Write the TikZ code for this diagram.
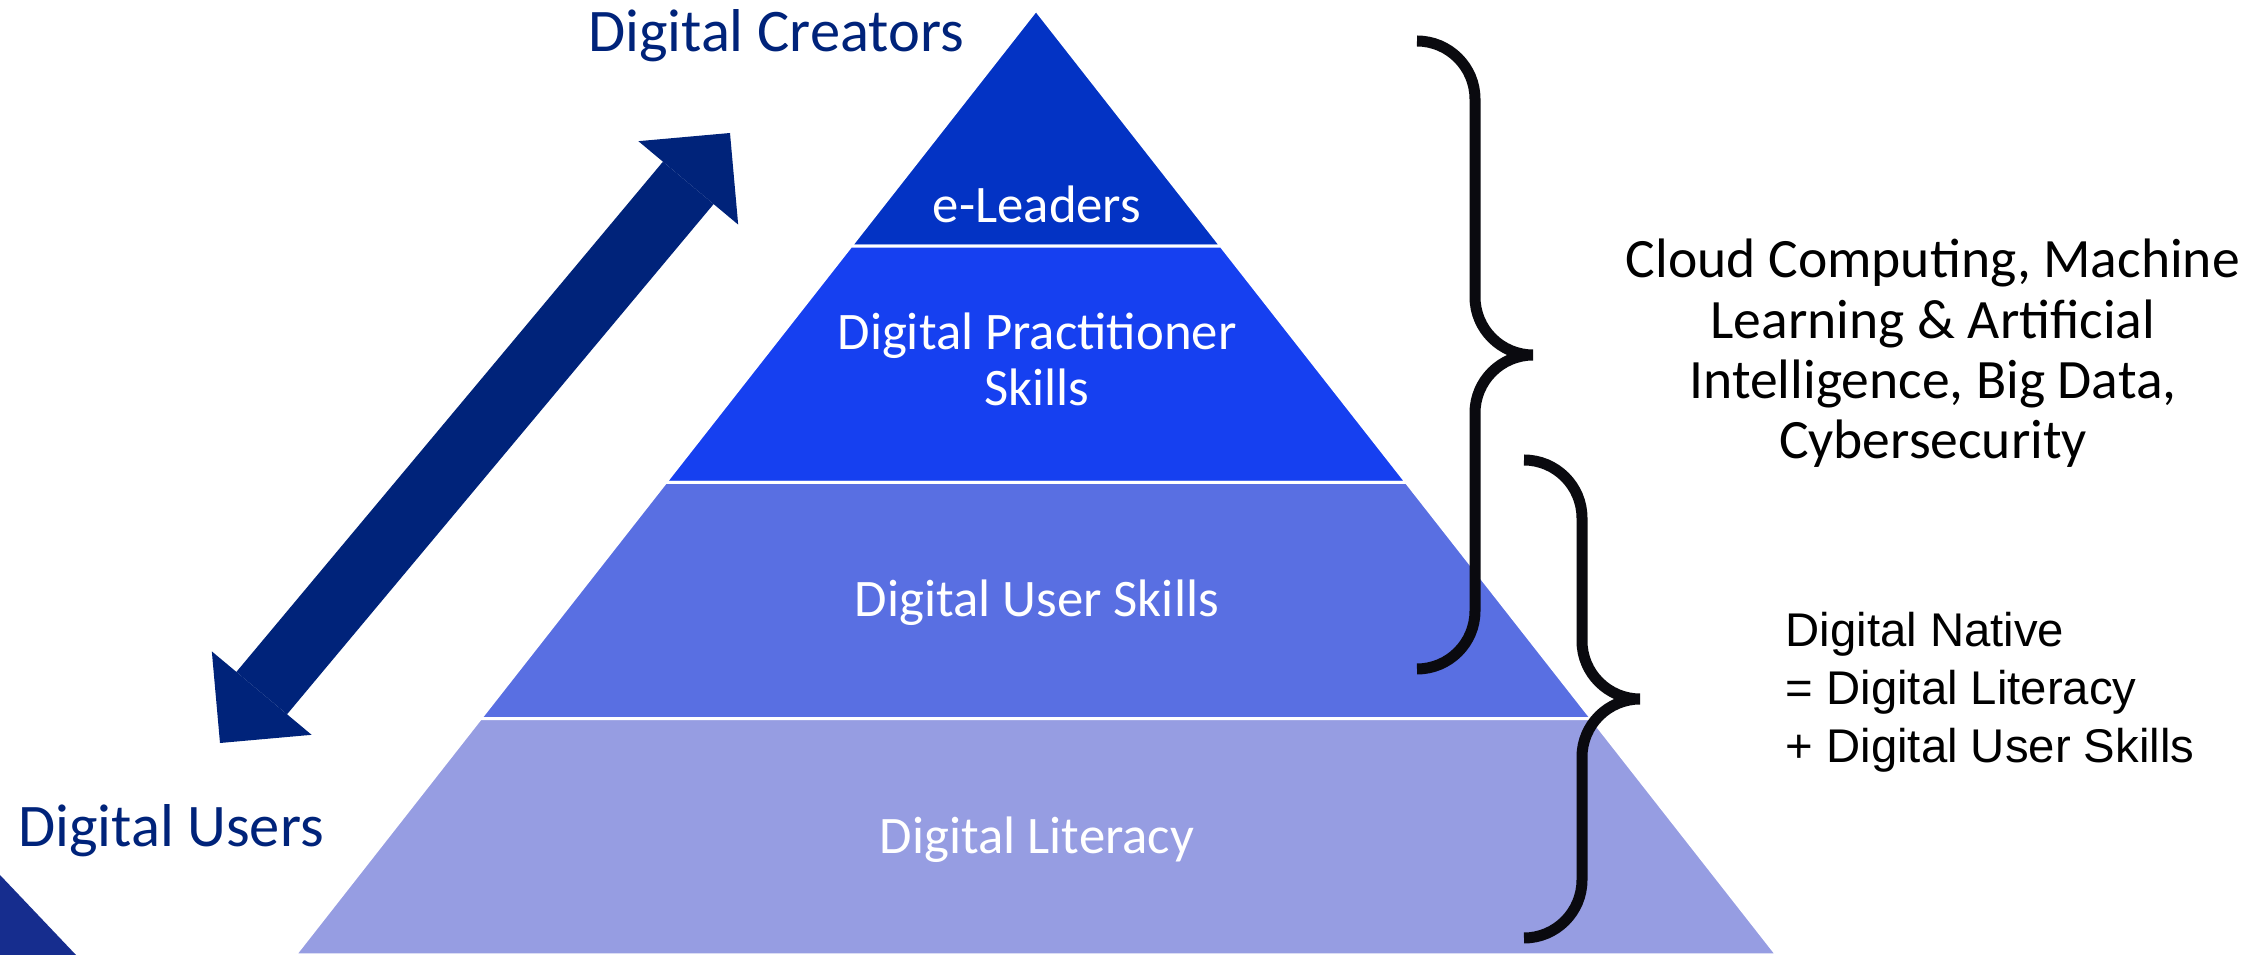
\documentclass[tikz,border=0pt]{standalone}
\usepackage{fontspec}
\setmainfont{Carlito}
\newfontfamily\arialfont{Liberation Sans}
\usetikzlibrary{arrows.meta,calc}
\definecolor{leadblue}{RGB}{3,51,196}
\definecolor{practblue}{RGB}{22,64,240}
\definecolor{userblue}{RGB}{89,111,226}
\definecolor{literacyblue}{RGB}{150,157,226}
\definecolor{usernavy}{RGB}{0,35,122}
\definecolor{cornerblue}{RGB}{22,45,142}
\definecolor{braceblack}{RGB}{10,10,15}
\tikzset{
  band/.style={draw=white,line width=0.03cm},
  tier/.style={text=white,inner sep=0pt,font=\fontsize{15}{15.65}\selectfont},
  grouplabel/.style={text=usernavy,inner sep=0pt,font=\fontsize{17.2}{20}\selectfont},
  curly/.style={draw=braceblack,line width=0.11cm},
  twoway/.style={draw=usernavy,line width=0.66cm,
    arrows={Triangle[length=0.65cm,width=1.3cm,line width=0pt]-Triangle[length=0.65cm,width=1.3cm,line width=0pt]}}
}
\begin{document}
\begin{tikzpicture}[x=0.01cm,y=-0.01cm]
  \useasboundingbox (0,0) rectangle (2268,955);
  \coordinate (apex) at (1036,10);
  \coordinate (bl) at (295,955);
  \coordinate (br) at (1777,955);
  \filldraw[band,fill=leadblue] (apex) -- ($(apex)!0.25!(br)$) -- ($(apex)!0.25!(bl)$) -- cycle;
  \filldraw[band,fill=practblue] ($(apex)!0.25!(bl)$) -- ($(apex)!0.25!(br)$) -- ($(apex)!0.5!(br)$) -- ($(apex)!0.5!(bl)$) -- cycle;
  \filldraw[band,fill=userblue] ($(apex)!0.5!(bl)$) -- ($(apex)!0.5!(br)$) -- ($(apex)!0.75!(br)$) -- ($(apex)!0.75!(bl)$) -- cycle;
  \filldraw[band,fill=literacyblue] ($(apex)!0.75!(bl)$) -- ($(apex)!0.75!(br)$) -- (br) -- (bl) -- cycle;
  \fill[cornerblue] (0,875) -- (76,955) -- (0,955) -- cycle;

  \node[tier,anchor=base] (leaders) at (1037,223) {e-Leaders};
  \node[tier,anchor=base,text width=4.3cm,align=flush center] (practitioners) at (1037,350) {Digital Practitioner\\Skills};
  \node[tier,anchor=base] (userskills) at (1037,617) {Digital User Skills};
  \node[tier,anchor=base] (literacy) at (1037,854) {Digital Literacy};

  \node[grouplabel,anchor=base] (creators) at (776,52) {Digital Creators};
  \node[grouplabel,anchor=base] (users) at (171,847) {Digital Users};
  \coordinate (users-tip) at (220,743);
  \coordinate (creators-tip) at (730,133);
  \draw[twoway] (users-tip) -- (creators-tip);

  \draw[curly] (1417,41) .. controls (1449,41) and (1475,67) .. (1475,99) -- (1475,297)
    .. controls (1475,329) and (1501,355) .. (1533,355) .. controls (1501,355) and (1475,381) .. (1475,413)
    -- (1475,611) .. controls (1475,643) and (1449,669) .. (1417,669);
  \draw[curly] (1524,460) .. controls (1556,460) and (1582,486) .. (1582,518) -- (1582,641)
    .. controls (1582,673) and (1608,699) .. (1640,699) .. controls (1608,699) and (1582,725) .. (1582,757)
    -- (1582,880) .. controls (1582,912) and (1556,938) .. (1524,938);

  \node[anchor=base,text width=6.5cm,align=flush center,inner sep=0pt,font=\fontsize{15.8}{17.07}\selectfont] (cloudtopics) at (1933,278)
    {Cloud Computing, Machine\\Learning \& Artificial\\Intelligence, Big Data,\\Cybersecurity};
  \node[anchor=base west,text width=4.4cm,align=flush left,inner sep=0pt,font=\arialfont\fontsize{13.45}{16.36}\selectfont] (native) at (1785,647)
    {Digital Native\\= Digital Literacy\\+ Digital User Skills};
\end{tikzpicture}
\end{document}
